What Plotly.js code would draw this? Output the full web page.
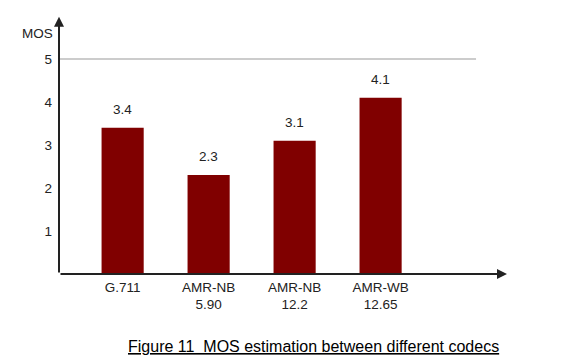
<!DOCTYPE html>
<html>
<head>
<meta charset="utf-8">
<script src="https://cdn.plot.ly/plotly-3.0.1.min.js"></script>
<style>html,body{margin:0;padding:0;background:#fff;}#chart{width:577px;height:362px;}</style>
</head>
<body>
<div id="chart"></div>
<script>
var codecs = ["G.711", "AMR-NB 5.90", "AMR-NB 12.2", "AMR-WB 12.65"];
var tickLabels = ["G.711", "AMR-NB<br>5.90", "AMR-NB<br>12.2", "AMR-WB<br>12.65"];
var mosValues = [3.4, 2.3, 3.1, 4.1];
var mosLabels = ["3.4", "2.3", "3.1", "4.1"];
var yTicks = [1, 2, 3, 4, 5];
var captionText = "Figure 11  MOS estimation between different codecs";

var xIdx = codecs.map(function (c, i) { return i; });
var FONT = "Liberation Sans, Arial, sans-serif";
var xMin = -0.74, xMax = 4.47, yTop = 5.98;

var trace = {
  type: "bar",
  x: xIdx,
  y: mosValues,
  width: 0.49,
  marker: { color: "#800000", line: { width: 0 } },
  hoverinfo: "skip"
};

var annotations = mosValues.map(function (v, i) {
  return {
    x: i, y: v, xref: "x", yref: "y", text: mosLabels[i],
    showarrow: false, yanchor: "bottom", yshift: 9,
    font: { family: FONT, size: 13.5, color: "#222" }
  };
});
// axis arrows
annotations.push({
  x: xMin, y: yTop, xref: "x", yref: "y", axref: "x", ayref: "y",
  ax: xMin, ay: 0, text: "", showarrow: true, arrowhead: 2, arrowsize: 1,
  arrowwidth: 2, arrowcolor: "#222", standoff: 0, startstandoff: 0
});
annotations.push({
  x: xMax, y: 0, xref: "x", yref: "y", axref: "x", ayref: "y",
  ax: xMin, ay: 0, text: "", showarrow: true, arrowhead: 2, arrowsize: 1,
  arrowwidth: 2, arrowcolor: "#222", standoff: 0, startstandoff: 0
});
annotations.push({
  x: xMin, y: 5.6, xref: "x", yref: "y", text: "MOS", showarrow: false,
  xanchor: "right", xshift: -4, font: { family: FONT, size: 13.5, color: "#222" }
});
annotations.push({
  x: (313 - 59) / 448, y: (274 - 346) / 258, xref: "paper", yref: "paper",
  xanchor: "center", yanchor: "middle",
  text: "<u>" + captionText + "</u>", showarrow: false,
  font: { family: FONT, size: 16, color: "#000" }
});

var layout = {
  width: 577, height: 362,
  margin: { l: 59, r: 70, t: 16, b: 88 },
  paper_bgcolor: "#fff", plot_bgcolor: "#fff",
  showlegend: false,
  xaxis: {
    range: [xMin, xMax], tickvals: xIdx, ticktext: tickLabels,
    showgrid: false, zeroline: false, showline: false, ticks: "",
    ticklabelstandoff: 3,
    tickfont: { family: FONT, size: 13.5, color: "#222" }, fixedrange: true
  },
  yaxis: {
    range: [0, 6], tickvals: yTicks, ticktext: yTicks.map(String),
    showgrid: false, zeroline: false, showline: false, ticks: "",
    ticklabelstandoff: 6,
    tickfont: { family: FONT, size: 13.5, color: "#222" }, fixedrange: true
  },
  shapes: [{
    type: "line", xref: "x", yref: "y", x0: xMin, x1: 4.11, y0: 5, y1: 5,
    line: { color: "#999", width: 1 }, layer: "below"
  }],
  annotations: annotations
};

Plotly.newPlot("chart", [trace], layout, { staticPlot: true, displayModeBar: false });
</script>
</body>
</html>
